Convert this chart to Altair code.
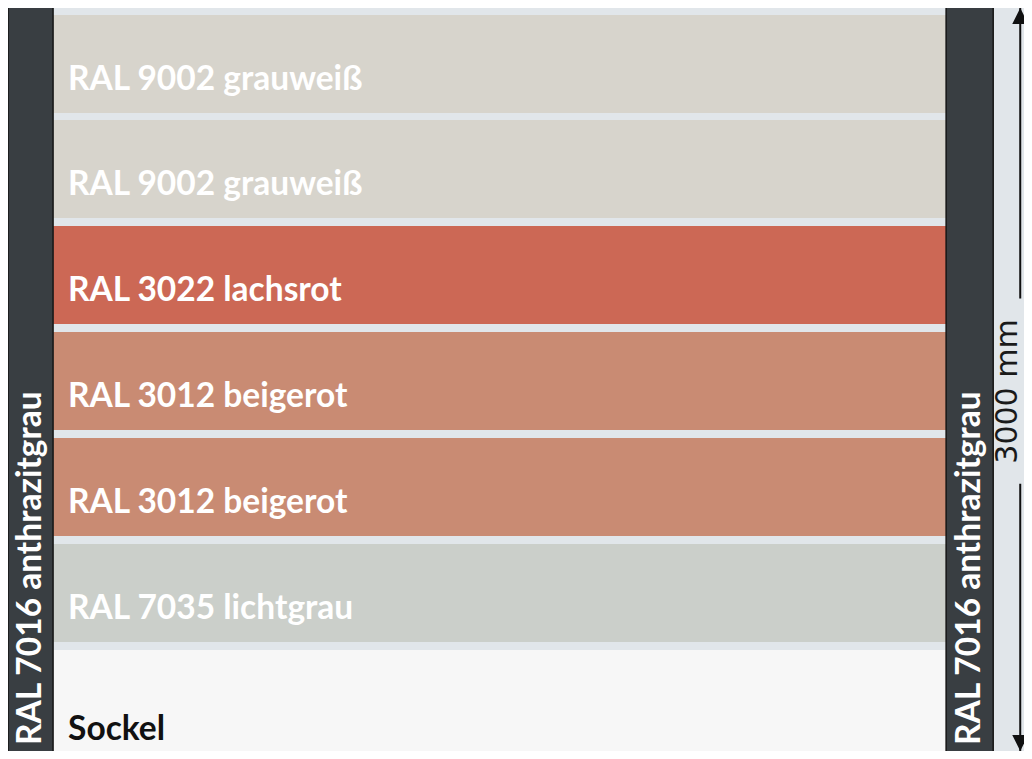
import altair as alt
import pandas as pd

# ---- data (heights in mm above floor, wall elevation) ----
panel_ral = ["RAL 9002", "RAL 9002", "RAL 3022", "RAL 3012", "RAL 3012", "RAL 7035", "Sockel"]
panel_label = ["RAL 9002 grauweiß", "RAL 9002 grauweiß", "RAL 3022 lachsrot",
               "RAL 3012 beigerot", "RAL 3012 beigerot", "RAL 7035 lichtgrau", "Sockel"]
panel_top = [2972, 2553, 2129, 1706, 1282, 859, 435]
panel_bottom = [2581, 2161, 1738, 1314, 891, 467, -16]

wall_left = 180
wall_right = 3747
wall_height = 3000

post_label = ["RAL 7016 anthrazitgrau", "RAL 7016 anthrazitgrau"]
post_left = [0, 3747]
post_right = [180, 3935]
post_top = [3012, 3012]
post_bottom = [-16, -16]

arrow_x = 4043
dim_label = "3000 mm"
dim_gap_low = 1100
dim_gap_high = 1840

# ---- styles ----
ral_domain = ["RAL 9002", "RAL 3022", "RAL 3012", "RAL 7035", "Sockel"]
ral_colors = ["#d7d4cc", "#cc6855", "#c98b73", "#cbcfca", "#f7f7f7"]
BG = "#e1e6ea"
POST = "#393e42"
FONT = "Lato"

panels = pd.DataFrame({
    "ral": panel_ral, "label": panel_label,
    "top": panel_top, "bottom": panel_bottom,
    "x0": [wall_left] * len(panel_ral), "x1": [wall_right] * len(panel_ral),
})
posts = pd.DataFrame({
    "label": post_label, "x0": post_left, "x1": post_right,
    "top": post_top, "bottom": post_bottom,
})
posts["xc"] = (posts["x0"] + posts["x1"]) / 2
posts["base"] = [0, 0]

arrow_segments = pd.DataFrame({
    "x": [arrow_x, arrow_x],
    "y": [wall_height, dim_gap_low],
    "y2": [dim_gap_high, 0],
})
arrow_heads = pd.DataFrame({"x": [arrow_x, arrow_x], "y": [wall_height, 0],
                            "end": ["top", "bottom"]})
dim_text = pd.DataFrame({"x": [arrow_x], "y": [wall_height / 2], "label": [dim_label]})

# drawing extends slightly past the visible frame on the right and bottom
xs = alt.Scale(domain=[0, 4090], range=[0, 1024], nice=False, zero=False)
ys = alt.Scale(domain=[0, wall_height], range=[751, 0], nice=False, zero=False)

rects = alt.Chart(panels).mark_rect(clip=True).encode(
    x=alt.X("x0:Q", scale=xs, axis=None), x2="x1:Q",
    y=alt.Y("top:Q", scale=ys, axis=None), y2="bottom:Q",
    color=alt.Color("ral:N", scale=alt.Scale(domain=ral_domain, range=ral_colors), legend=None),
)

labels = alt.Chart(panels).mark_text(
    align="left", baseline="alphabetic", dx=15, dy=-23,
    font=FONT, fontWeight="bold", fontSize=33.5,
).encode(
    x=alt.X("x0:Q", scale=xs, axis=None),
    y=alt.Y("bottom:Q", scale=ys, axis=None),
    text="label:N",
    color=alt.condition("datum.ral == 'Sockel'", alt.value("#111111"), alt.value("#ffffff")),
)

post_rects = alt.Chart(posts).mark_rect(
    clip=True, color=POST, stroke="#151515", strokeWidth=1.5,
).encode(
    x=alt.X("x0:Q", scale=xs, axis=None), x2="x1:Q",
    y=alt.Y("top:Q", scale=ys, axis=None), y2="bottom:Q",
)

post_labels = alt.Chart(posts).mark_text(
    angle=270, align="left", baseline="middle", dx=14,
    font=FONT, fontWeight="bold", fontSize=33.5, color="#ffffff",
).encode(
    x=alt.X("xc:Q", scale=xs, axis=None),
    y=alt.Y("base:Q", scale=ys, axis=None),
    text="label:N",
)

arrow_lines = alt.Chart(arrow_segments).mark_rule(color="#111111", strokeWidth=2).encode(
    x=alt.X("x:Q", scale=xs, axis=None),
    y=alt.Y("y:Q", scale=ys, axis=None), y2="y2:Q",
)

head_top = alt.Chart(arrow_heads).transform_filter("datum.end == 'top'").mark_point(
    shape="M-1,1L0,-1L1,1Z", filled=True, size=256, color="#111111", opacity=1, yOffset=8,
).encode(
    x=alt.X("x:Q", scale=xs, axis=None),
    y=alt.Y("y:Q", scale=ys, axis=None),
)
head_bottom = alt.Chart(arrow_heads).transform_filter("datum.end == 'bottom'").mark_point(
    shape="M-1,-1L0,1L1,-1Z", filled=True, size=256, color="#111111", opacity=1, yOffset=-16,
).encode(
    x=alt.X("x:Q", scale=xs, axis=None),
    y=alt.Y("y:Q", scale=ys, axis=None),
)

dim = alt.Chart(dim_text).mark_text(
    angle=270, align="center", baseline="middle", dx=-8, dy=-12,
    font="DejaVu Sans", fontWeight="normal", fontSize=30, color="#1a1a1a",
).encode(
    x=alt.X("x:Q", scale=xs, axis=None),
    y=alt.Y("y:Q", scale=ys, axis=None),
    text="label:N",
)

chart = alt.layer(
    rects, labels, post_rects, post_labels, arrow_lines, head_top, head_bottom, dim
).properties(
    width=1016, height=743, padding=0,
    autosize=alt.AutoSizeParams(type="none"),
    background=BG,
).configure_view(stroke=None)

chart.save("out.html", embed_options={"renderer": "svg", "actions": False})
